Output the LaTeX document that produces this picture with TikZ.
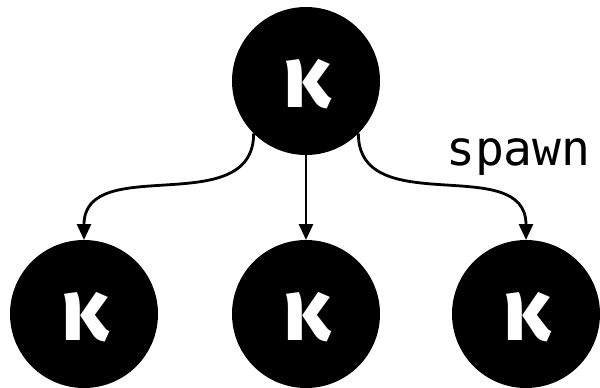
\documentclass[tikz,border=0pt]{standalone}
\usepackage{fontspec}
\newfontfamily\kfont{Fira Sans}
\newfontfamily\monofont{DejaVu Sans Mono}
\usetikzlibrary{arrows.meta}
\begin{document}
\begin{tikzpicture}[x=1pt,y=-1pt,
  proc/.style={circle,fill=black,draw=none,minimum size=148pt,inner sep=0pt,outer sep=0pt},
  klabel/.style={text=white,font=\kfont\bfseries\fontsize{88}{88}\selectfont,inner sep=0pt,anchor=base},
  arr/.style={line width=2.8pt,-{Triangle[length=16pt,width=14pt]}}]
\useasboundingbox (0,0) rectangle (600,388);
\node[proc] (t) at (306,81) {};
\node[proc] (l) at (84,314) {};
\node[proc] (m) at (306,314) {};
\node[proc] (r) at (526,314) {};
\node[klabel] (tk) at (307,107) {κ};
\node[klabel] (lk) at (85,340) {κ};
\node[klabel] (mk) at (307,340) {κ};
\node[klabel] (rk) at (527,340) {κ};
\draw[arr] (t.225) .. controls +(0,88) and +(0,-88) .. (l.north);
\draw[arr] (t.south) -- (m.north);
\draw[arr] (t.-45) .. controls +(0,88) and +(0,-88) .. (r.north);
\node[font=\monofont\fontsize{48}{48}\selectfont,anchor=base west,inner sep=0pt] (sp) at (446,165) {spawn};
\end{tikzpicture}
\end{document}
